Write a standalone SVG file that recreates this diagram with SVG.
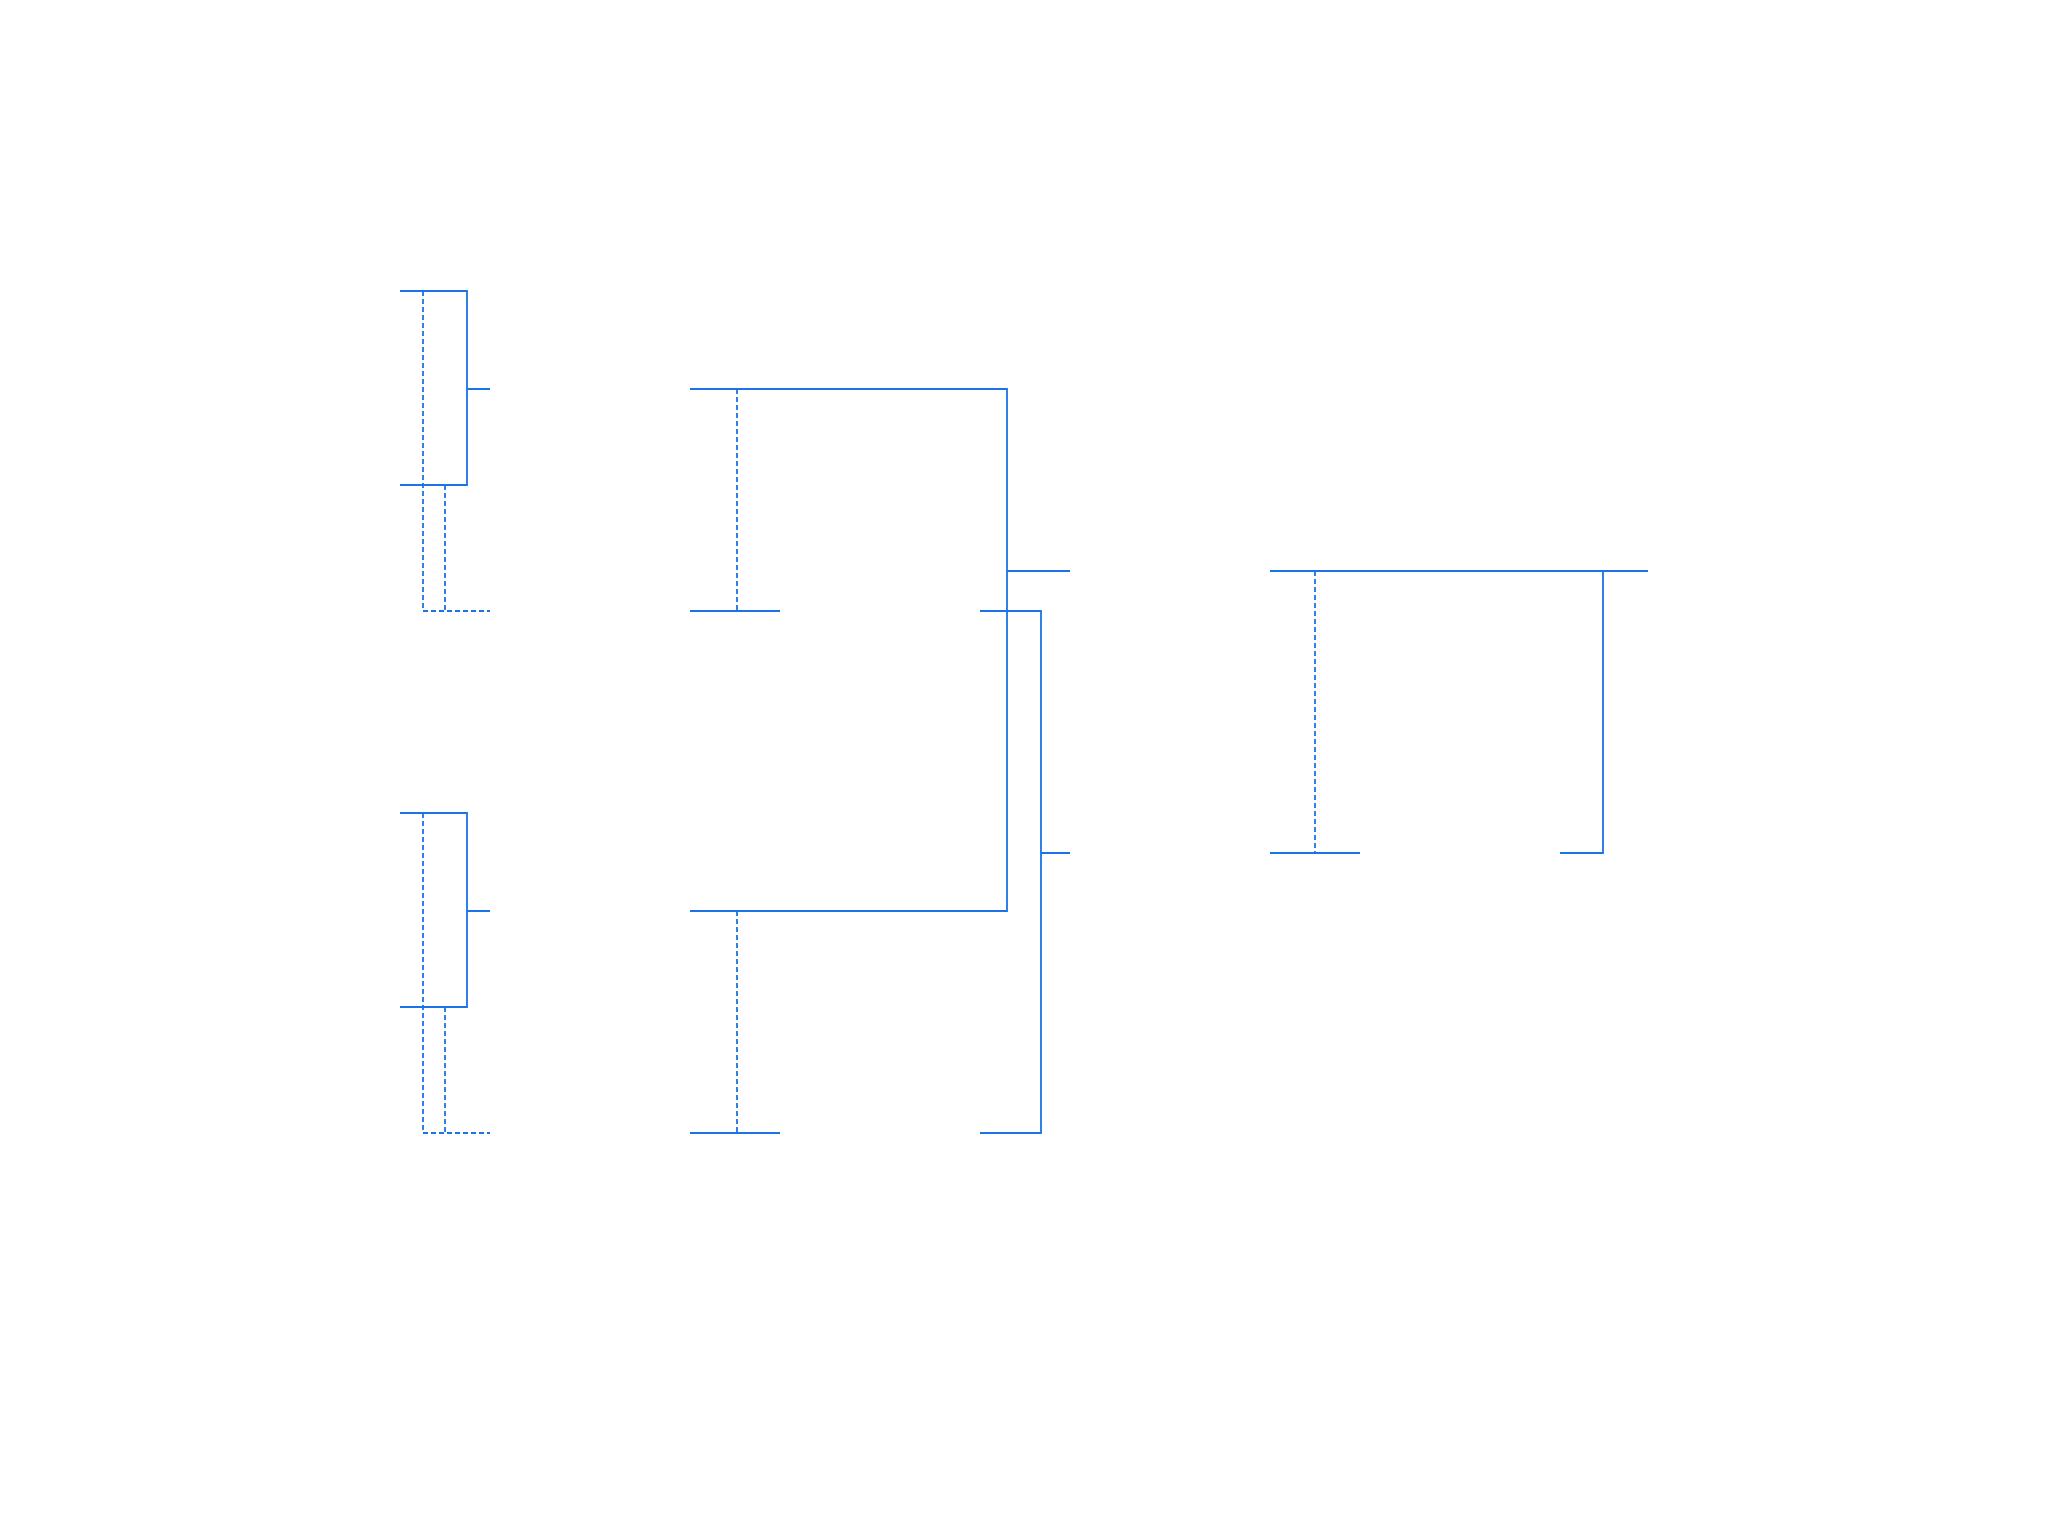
<svg xmlns="http://www.w3.org/2000/svg" width="2048" height="1536" viewBox="0 0 2048 1536">
<style>
.s{fill:none;stroke:#1a73e8;stroke-width:1.8}
.d{fill:none;stroke:#1a73e8;stroke-width:1.8;stroke-dasharray:5 3}
</style>
<rect width="2048" height="1536" fill="#ffffff"/>
<g id="node-upper-box">
<path class="s" d="M400,291H467V485H400"/>
<path class="d" d="M423,291V611H490M445,485V611"/>
</g>
<g id="node-lower-box">
<path class="s" d="M400,813H467V1007H400"/>
<path class="d" d="M423,813V1133H490M445,1007V1133"/>
</g>
<g id="node-upper-bar">
<path class="s" d="M690,611H780"/>
<path class="d" d="M737,389V611"/>
</g>
<g id="node-lower-bar">
<path class="s" d="M690,1133H780"/>
<path class="d" d="M737,911V1133"/>
</g>
<g id="node-right">
<path class="s" d="M1270,571H1648M1270,853H1360M1560,853H1603V571"/>
<path class="d" d="M1315,571V853"/>
</g>
<g id="connectors">
<path class="s" d="M467,389H490M467,911H490"/>
<path class="s" d="M690,389H1007V911H690M1007,571H1070"/>
<path class="s" d="M980,611H1041V1133H980M1041,853H1070"/>
</g>
</svg>
